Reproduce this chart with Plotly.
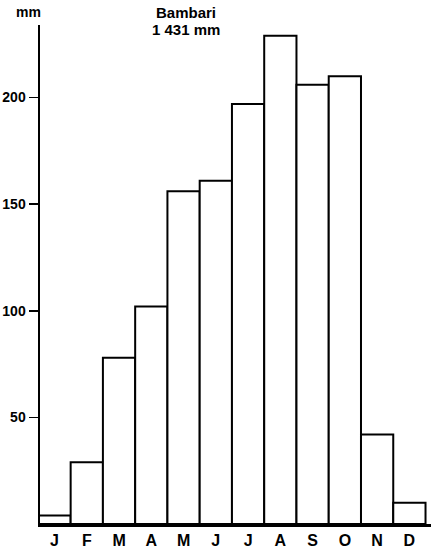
import plotly.graph_objects as go

months = ["J", "F", "M", "A", "M", "J", "J", "A", "S", "O", "N", "D"]
rain_mm = [4, 29, 78, 102, 156, 161, 197, 229, 206, 210, 42, 10]
y_ticks = [50, 100, 150, 200]
y_tick_labels = ["50", "100", "150", "200"]
station = "Bambari"
total_label = "1 431 mm"

x_pos = list(range(len(months)))

fig = go.Figure()
fig.add_trace(go.Bar(
    x=x_pos, y=rain_mm, width=1.0,
    marker=dict(color="white", line=dict(color="black", width=2)),
    showlegend=False, hoverinfo="skip",
))

W, H = 431, 551
L, R, T, B = 40, 0, 25, 27
pw, ph = W - L - R, H - T - B

def px(x):
    return (x - L) / pw

def py(y):
    return (H - B - y) / ph

FONT = "Liberation Sans, Arial, sans-serif"

fig.update_layout(
    width=W, height=H,
    margin=dict(l=L, r=R, t=T, b=B, pad=0),
    paper_bgcolor="white", plot_bgcolor="white",
    font=dict(family=FONT, color="black", size=14),
    bargap=0,
    xaxis=dict(
        range=[-0.45, 11.67], tickmode="array", tickvals=x_pos,
        ticktext=["<b>%s</b>" % m for m in months],
        showline=True, linecolor="black", linewidth=2.5, showgrid=False, zeroline=False,
        ticks="", tickfont=dict(size=16), fixedrange=True, automargin=False,
    ),
    yaxis=dict(
        range=[0, 234], tickmode="array", tickvals=y_ticks,
        ticktext=["<b>%s</b>" % t for t in y_tick_labels],
        showline=True, linecolor="black", linewidth=2.5, showgrid=False, zeroline=False,
        ticks="outside", ticklen=9, tickwidth=1.5, tickcolor="black",
        tickfont=dict(size=14), fixedrange=True, automargin=False,
    ),
    annotations=[
        dict(text="<b>mm</b>", xref="paper", yref="paper", x=px(28), y=py(12),
             showarrow=False, xanchor="center", yanchor="middle", font=dict(size=14)),
        dict(text="<b>%s</b>" % station, xref="paper", yref="paper", x=px(186), y=py(12),
             showarrow=False, xanchor="center", yanchor="middle", font=dict(size=15)),
        dict(text="<b>%s</b>" % total_label, xref="paper", yref="paper", x=px(186), y=py(29),
             showarrow=False, xanchor="center", yanchor="middle", font=dict(size=15)),
    ],
)

fig.write_html(
    "out.html",
    config={"displayModeBar": False, "staticPlot": True},
    post_script="document.body.style.margin='0';document.body.style.overflow='hidden';",
)
